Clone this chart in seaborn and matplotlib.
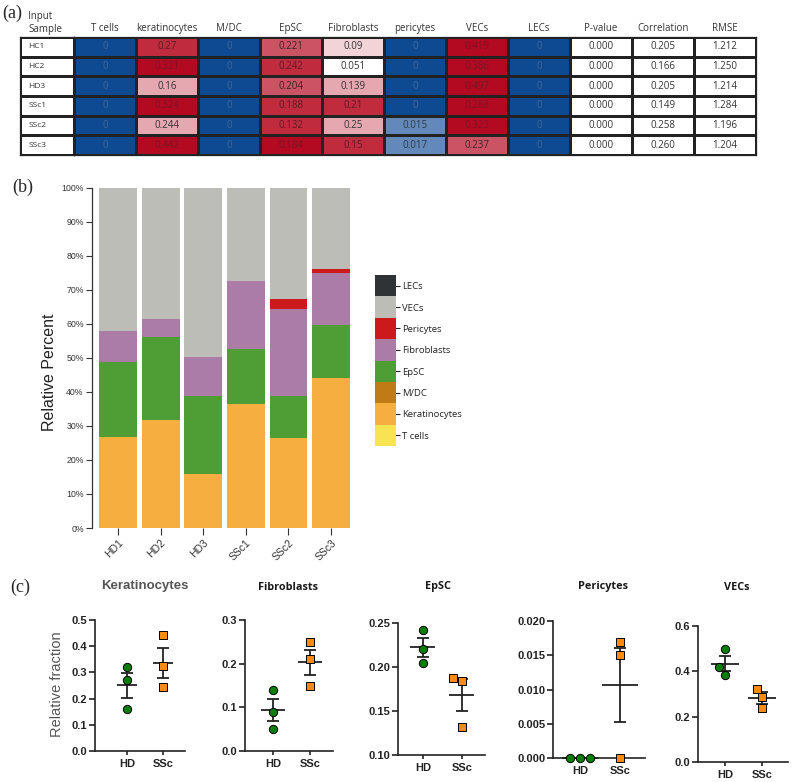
import numpy as np
import pandas as pd
import matplotlib
matplotlib.use('Agg')
import matplotlib.pyplot as plt
from matplotlib.colors import ListedColormap
import seaborn as sns

sns.set_theme(style='ticks')
plt.rcParams['font.family'] = ['Liberation Sans', 'DejaVu Sans']

# ---------------- (a) deconvolution table ----------------
table_samples = ['HC1', 'HC2', 'HD3', 'SSc1', 'SSc2', 'SSc3']
table_cols = ['T cells', 'keratinocytes', 'M/DC', 'EpSC', 'Fibroblasts',
              'pericytes', 'VECs', 'LECs', 'P-value', 'Correlation', 'RMSE']
t_cells = [0, 0, 0, 0, 0, 0]
keratinocytes = [0.27, 0.321, 0.16, 0.324, 0.244, 0.442]
m_dc = [0, 0, 0, 0, 0, 0]
epsc = [0.221, 0.242, 0.204, 0.188, 0.132, 0.184]
fibroblasts = [0.09, 0.051, 0.139, 0.21, 0.25, 0.15]
pericytes = [0, 0, 0, 0, 0.015, 0.017]
vecs = [0.419, 0.386, 0.497, 0.288, 0.323, 0.237]
lecs = [0, 0, 0, 0, 0, 0]
p_value = [0.0, 0.0, 0.0, 0.0, 0.0, 0.0]
correlation = [0.205, 0.166, 0.205, 0.149, 0.258, 0.260]
rmse = [1.212, 1.250, 1.214, 1.284, 1.196, 1.204]
# cell shading level (0 blue ... 7 dark red)
shade = [[0, 6, 0, 5, 3, 0, 7, 0],
         [0, 7, 0, 6, 2, 0, 7, 0],
         [0, 4, 0, 5, 4, 0, 7, 0],
         [0, 7, 0, 6, 6, 0, 7, 0],
         [0, 4, 0, 6, 4, 1, 7, 0],
         [0, 7, 0, 7, 6, 1, 5, 0]]

# ---------------- (b) stacked bars ----------------
bar_samples = ['HD1', 'HD2', 'HD3', 'SSc1', 'SSc2', 'SSc3']
pct_tcells = [0, 0, 0, 0, 0, 0]
pct_kerat = [26.9, 31.9, 16.0, 36.6, 26.6, 44.1]
pct_mdc = [0, 0, 0, 0, 0, 0]
pct_epsc = [22.0, 24.3, 22.8, 16.0, 12.1, 15.7]
pct_fibro = [9.1, 5.3, 11.4, 19.9, 25.8, 15.1]
pct_peri = [0, 0, 0, 0, 2.9, 1.3]
pct_vecs = [42.0, 38.5, 49.8, 27.5, 32.6, 23.8]
pct_lecs = [0, 0, 0, 0, 0, 0]
legend_labels = ['LECs', 'VECs', 'Pericytes', 'Fibroblasts', 'EpSC', 'M/DC',
                 'Keratinocytes', 'T cells']

# ---------------- (c) group comparison ----------------
groups = ['HD', 'SSc']
panel_titles = ['Keratinocytes', 'Fibroblasts', 'EpSC', 'Pericytes', 'VECs']
panel_data = [keratinocytes, fibroblasts, epsc, pericytes, vecs]

# ---------------- styling ----------------
W, H = 793, 782
def rect(x0, y0, x1, y1):
    return [x0 / W, 1 - y1 / H, (x1 - x0) / W, (y1 - y0) / H]

shade_colors = ['#0d4a92', '#6389bb', '#ffffff', '#f2d3d8', '#e5a7b0',
                '#cb5464', '#c12b3e', '#b30a22']
text_colors = ['#456694', '#2e3846', '#333333', '#333333', '#333333',
               '#3d2528', '#5e1a26', '#7a1424']
cell_colors = {'LECs': '#2f3335', 'VECs': '#bbbdb6', 'Pericytes': '#cc1a1c',
               'Fibroblasts': '#ab7ca5', 'EpSC': '#4f9e35', 'M/DC': '#c07b17',
               'Keratinocytes': '#f6ae3f', 'T cells': '#f8e450'}
OPEN = ['Open Sans', 'DejaVu Sans']
SERIF = ['Liberation Serif', 'DejaVu Serif']

fig = plt.figure(figsize=(7.93, 7.82), dpi=100)

# ===== (a) =====
ax_s = fig.add_axes(rect(20, 37, 74, 155))
sns.heatmap(np.zeros((6, 1)), cmap=ListedColormap(['#ffffff']), cbar=False,
            linewidths=0.9, linecolor='#222222', xticklabels=False,
            yticklabels=False, ax=ax_s)
for i, name in enumerate(table_samples):
    ax_s.text(0.15, i + 0.5, name, ha='left', va='center', fontsize=6,
              family=OPEN, color='#333333')
for sp in ax_s.spines.values():
    sp.set_visible(True); sp.set_linewidth(0.9); sp.set_color('#222222')

vals = np.array([t_cells, keratinocytes, m_dc, epsc, fibroblasts,
                 pericytes, vecs, lecs], dtype=float).T
annot = []
for r in range(6):
    row = [f"{v:g}" for v in vals[r]]
    row += [f"{p_value[r]:.3f}", f"{correlation[r]:.3f}", f"{rmse[r]:.3f}"]
    annot.append(row)
annot = np.array(annot)
shade_full = np.hstack([np.array(shade), np.full((6, 3), 2)])
ax_t = fig.add_axes(rect(74, 37, 756, 155))
sns.heatmap(shade_full, cmap=ListedColormap(shade_colors), vmin=-0.5, vmax=7.5,
            annot=annot, fmt='', cbar=False, linewidths=0.9, linecolor='#222222',
            xticklabels=table_cols, yticklabels=False,
            annot_kws=dict(fontsize=7, family=OPEN), ax=ax_t)
for txt in ax_t.texts:
    x, y = txt.get_position()
    txt.set_color(text_colors[shade_full[int(y), int(x)]])
ax_t.xaxis.tick_top()
ax_t.tick_params(axis='x', length=0, pad=2, labelsize=7, labelcolor='#333333')
for lab in ax_t.get_xticklabels():
    lab.set_family(OPEN); lab.set_rotation(0)
for sp in ax_t.spines.values():
    sp.set_visible(True); sp.set_linewidth(0.9); sp.set_color('#222222')

fig.text(2 / W, 1 - 13 / H, '(a)', family=SERIF, fontsize=13, va='center', ha='left')
fig.text(28 / W, 1 - 35 / H, 'Input\nSample', family=OPEN, fontsize=7,
         va='bottom', ha='left', linespacing=1.25, color='#333333')

# ===== (b) =====
ax_b = fig.add_axes(rect(92, 188, 352, 528))
stack = [('T cells', pct_tcells), ('Keratinocytes', pct_kerat), ('M/DC', pct_mdc),
         ('EpSC', pct_epsc), ('Fibroblasts', pct_fibro), ('Pericytes', pct_peri),
         ('VECs', pct_vecs), ('LECs', pct_lecs)]
bottom = np.zeros(len(bar_samples))
for name, v in stack:
    v = np.array(v, dtype=float)
    sns.barplot(x=bar_samples, y=v, bottom=bottom, color=cell_colors[name],
                width=0.89, linewidth=0, saturation=1, ax=ax_b)
    bottom = bottom + v
ax_b.set_xlim(-0.61, 5.49)
ax_b.set_ylim(0, 100)
ax_b.set_yticks(np.arange(0, 101, 10))
ax_b.set_yticklabels([f'{t}%' for t in range(0, 101, 10)])
sns.despine(ax=ax_b, bottom=True)
ax_b.spines['left'].set_color('#333333'); ax_b.spines['left'].set_linewidth(0.9)
ax_b.tick_params(axis='y', length=4, width=0.8, color='#333333', labelsize=6.3,
                 labelcolor='#333333', pad=2)
ax_b.tick_params(axis='x', length=5, width=0.8, color='#333333', labelsize=7.5,
                 labelcolor='#333333', pad=2)
for lab in ax_b.get_xticklabels():
    lab.set_rotation(45); lab.set_ha('right'); lab.set_rotation_mode('anchor')
ax_b.set_xlabel(''); ax_b.set_ylabel('')
fig.text(50 / W, 1 - 372 / H, 'Relative Percent', rotation=90, fontsize=11.5,
         va='center', ha='center', color='#222222')
fig.text(12 / W, 1 - 187 / H, '(b)', family=SERIF, fontsize=13, va='center', ha='left')

# legend as a stacked colour strip
ax_l = fig.add_axes(rect(375, 275, 396, 446))
sns.heatmap(np.arange(len(legend_labels)).reshape(-1, 1),
            cmap=ListedColormap([cell_colors[n] for n in legend_labels]),
            cbar=False, xticklabels=False, yticklabels=legend_labels, ax=ax_l)
ax_l.yaxis.tick_right()
ax_l.tick_params(axis='y', direction='inout', length=6, width=0.8, color='#222222',
                 labelsize=6.8, labelcolor='#222222', pad=1.5, left=False, right=True)
for lab in ax_l.get_yticklabels():
    lab.set_rotation(0); lab.set_family(OPEN)

# ===== (c) =====
panel_rects = [rect(95, 620, 185, 751), rect(245, 620, 333, 751),
               rect(398, 623, 485, 755), rect(553, 621, 645, 758),
               rect(698, 626, 788, 762)]
panel_ylim = [(0, 0.5), (0, 0.3), (0.10, 0.25), (0, 0.020), (0, 0.6)]
panel_yticks = [np.arange(0, 0.51, 0.1), np.arange(0, 0.31, 0.1),
                np.arange(0.10, 0.251, 0.05), np.arange(0, 0.0201, 0.005),
                np.arange(0, 0.61, 0.2)]
panel_fmt = ['{:.1f}', '{:.1f}', '{:.2f}', '{:.3f}', '{:.1f}']
panel_xlim = [(-0.89, 1.61), (-0.76, 1.62), (-0.64, 1.59), (-0.675, 1.625), (-0.73, 1.70)]
panel_hw = [0.28, 0.33, 0.32, 0.45, 0.38]
title_pos = [(145, 586), (288, 587), (438, 587), (603, 587), (737, 588)]
dark = '#222222'

for k, vals_k in enumerate(panel_data):
    ax = fig.add_axes(panel_rects[k])
    hd = np.array(vals_k[:3], dtype=float)
    ss = np.array(vals_k[3:], dtype=float)
    # mean +/- SEM
    for i, g in enumerate([hd, ss]):
        m = g.mean()
        se = g.std(ddof=1) / np.sqrt(len(g))
        ax.hlines(m, i - panel_hw[k], i + panel_hw[k], color=dark, lw=1.3, zorder=2)
        ax.errorbar(i, m, yerr=se, fmt='none', ecolor=dark, elinewidth=1.3,
                    capsize=4.3, capthick=1.3, zorder=2)
    sns.swarmplot(x=['HD'] * 3, y=hd, order=groups, marker='o', color='#0b7d0b',
                  edgecolor='black', linewidth=0.7, size=6, ax=ax, zorder=3,
                  warn_thresh=1)
    sns.swarmplot(x=['SSc'] * 3, y=ss, order=groups, marker='s', color='#ff8a12',
                  edgecolor='black', linewidth=0.7, size=6, ax=ax, zorder=3,
                  warn_thresh=1)
    for coll in ax.collections:
        coll.set_clip_on(False)
    ax.set_xlim(*panel_xlim[k])
    ax.set_ylim(*panel_ylim[k])
    ax.set_yticks(panel_yticks[k])
    ax.set_yticklabels([panel_fmt[k].format(t) for t in panel_yticks[k]])
    sns.despine(ax=ax)
    for sp in ('left', 'bottom'):
        ax.spines[sp].set_linewidth(1.2); ax.spines[sp].set_color(dark)
    ax.tick_params(axis='y', length=4, width=1.2, color=dark, labelsize=8,
                   labelcolor=dark, pad=1.5)
    ax.tick_params(axis='x', length=3, width=1.2, color=dark, labelsize=8,
                   labelcolor=dark, pad=3)
    for lab in ax.get_xticklabels() + ax.get_yticklabels():
        lab.set_fontweight('bold')
    ax.set_xlabel(''); ax.set_ylabel('')
    tx, ty = title_pos[k]
    if k == 0:
        fig.text(tx / W, 1 - ty / H, panel_titles[k], fontsize=9.5, fontweight='bold',
                 color='#555555', ha='center', va='center')
    else:
        fig.text(tx / W, 1 - ty / H, panel_titles[k], fontsize=7.8, fontweight='bold',
                 family=OPEN, color='#1a1a1a', ha='center', va='center')

fig.text(57 / W, 1 - 684 / H, 'Relative fraction', rotation=90, fontsize=10.5,
         color='#555555', va='center', ha='center')
fig.text(10 / W, 1 - 587 / H, '(c)', family=SERIF, fontsize=13, va='center', ha='left')

fig.savefig('out.png', dpi=100)
